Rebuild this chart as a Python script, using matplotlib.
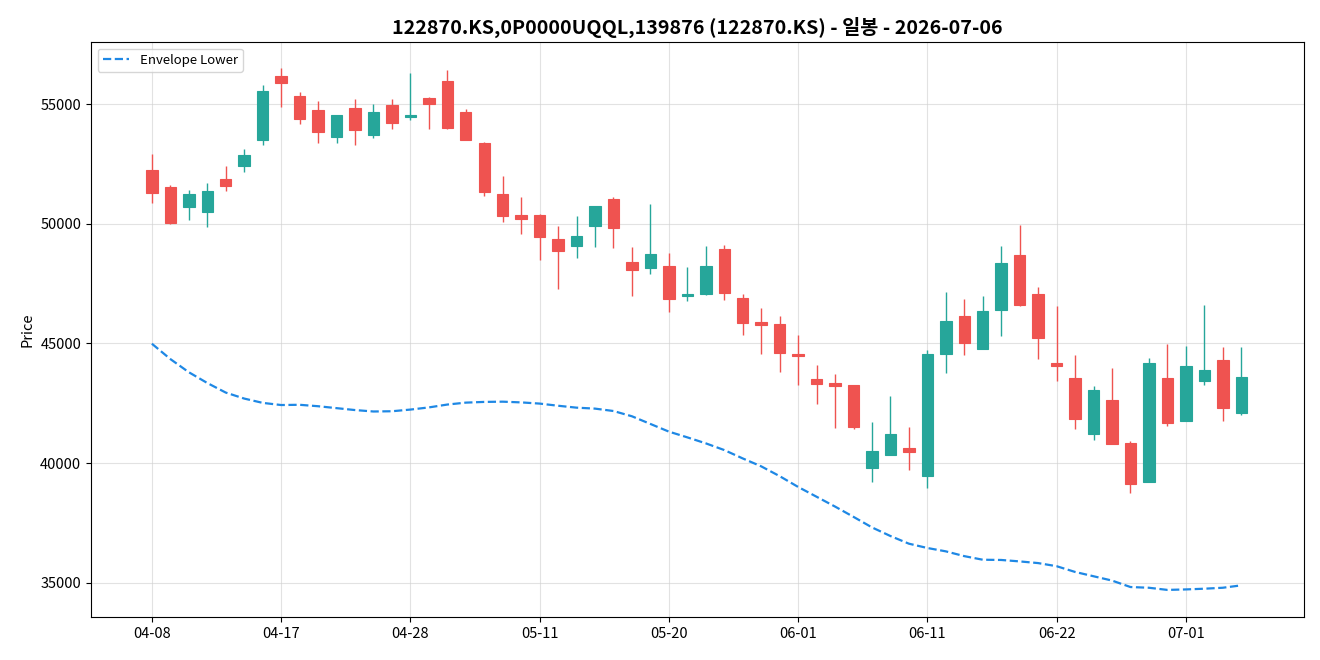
import matplotlib
matplotlib.use("Agg")
import matplotlib.pyplot as plt
import numpy as np

plt.rcParams['font.family'] = ['Noto Sans CJK KR', 'DejaVu Sans']

dates = ["04-08", "04-09", "04-10", "04-13", "04-14", "04-15", "04-16", "04-17", "04-20", "04-21",
         "04-22", "04-23", "04-24", "04-27", "04-28", "04-29", "04-30", "05-04", "05-06", "05-07",
         "05-08", "05-11", "05-12", "05-13", "05-14", "05-15", "05-18", "05-19", "05-20", "05-21",
         "05-22", "05-26", "05-27", "05-28", "05-29", "06-01", "06-02", "06-04", "06-05", "06-08",
         "06-09", "06-10", "06-11", "06-12", "06-15", "06-16", "06-17", "06-18", "06-19", "06-22",
         "06-23", "06-24", "06-25", "06-26", "06-29", "06-30", "07-01", "07-02", "07-03", "07-06"]

opens = [52250, 51530, 50690, 50500, 51850, 52400, 53480, 56170, 55320, 54740,
         53610, 54820, 53690, 54950, 54460, 55240, 55950, 54670, 53360, 51230,
         50350, 50350, 49350, 49060, 49890, 51020, 48390, 48170, 48220, 46990,
         47080, 48930, 46890, 45890, 45810, 44560, 43510, 43340, 43260, 39790,
         40330, 40640, 39460, 44550, 46150, 44780, 46390, 48680, 47050, 44170,
         43550, 41210, 42630, 40830, 39210, 43550, 41750, 43440, 44300, 42090]
highs = [52900, 51620, 51410, 51700, 52410, 53120, 55790, 56500, 55500, 55120,
         54530, 55210, 55000, 55210, 56290, 55290, 56420, 54790, 53430, 51990,
         51120, 50410, 49910, 50320, 50740, 51120, 49020, 50830, 48780, 48190,
         49070, 49110, 47070, 46480, 46160, 45360, 44100, 43730, 43260, 41720,
         42810, 41520, 44730, 47150, 46860, 46980, 49070, 49950, 47360, 46580,
         44520, 43230, 43980, 40930, 44380, 44980, 44900, 46610, 44860, 44860]
lows = [50880, 50000, 50160, 49880, 51370, 52170, 53300, 54890, 54180, 53380,
        53380, 53300, 53590, 53970, 54320, 53970, 53970, 53480, 51170, 50090,
        49590, 48500, 47290, 48580, 49040, 49000, 47000, 47920, 46330, 46790,
        47040, 46830, 45370, 44580, 43820, 43270, 42480, 41490, 41430, 39220,
        40330, 39720, 38970, 43780, 44520, 44780, 45330, 46570, 44370, 43450,
        41440, 40980, 40790, 38770, 39200, 41570, 41750, 43280, 41780, 42030]
closes = [51300, 50020, 51230, 51350, 51590, 52860, 55530, 55890, 54390, 53820,
          54530, 53900, 54670, 54190, 54520, 54990, 53990, 53480, 51310, 50310,
          50190, 49430, 48850, 49480, 50740, 49810, 48060, 48730, 46850, 47080,
          48220, 47100, 45840, 45770, 44590, 44470, 43300, 43240, 41530, 40500,
          41210, 40460, 44560, 45930, 45010, 46350, 48350, 46600, 45240, 44050,
          41840, 43050, 40790, 39140, 44170, 41670, 44050, 43880, 42300, 43590]

envelope_lower = [44990, 44350, 43800, 43350, 42950, 42700, 42520, 42430, 42440, 42380,
                  42300, 42220, 42160, 42170, 42240, 42330, 42450, 42530, 42560, 42570,
                  42540, 42490, 42400, 42320, 42280, 42180, 41960, 41640, 41320, 41080,
                  40830, 40550, 40200, 39870, 39460, 39010, 38600, 38190, 37760, 37320,
                  36960, 36640, 36460, 36320, 36120, 35970, 35960, 35900, 35830, 35700,
                  35460, 35280, 35100, 34830, 34800, 34710, 34730, 34760, 34800, 34900]

title = "122870.KS,0P0000UQQL,139876 (122870.KS) - 일봉 - 2026-07-06"

UP = "#26a69a"
DOWN = "#ef5350"

fig = plt.figure(figsize=(13.2, 6.6), dpi=100)
ax = fig.add_axes([0.0689, 0.0652, 0.919, 0.8712])

x = np.arange(len(dates))
o = np.array(opens); c = np.array(closes); h = np.array(highs); l = np.array(lows)
up = c >= o
colors = np.where(up, UP, DOWN)

ax.vlines(x, l, h, colors=colors, linewidth=1.0, zorder=2)
bottom = np.minimum(o, c)
height = np.maximum(np.abs(c - o), 60)
ax.bar(x, height, bottom=bottom, width=0.62, color=colors, edgecolor=colors,
       linewidth=0.8, zorder=3)

ax.plot(x, envelope_lower, linestyle='--', color='#1e88e5', linewidth=1.6,
        label='Envelope Lower', zorder=4)

ax.set_xlim(-3.3, 62.4)
ax.set_ylim(33580, 57590)
ticks = x[::7]
ax.set_xticks(ticks)
ax.set_xticklabels([dates[i] for i in ticks], fontsize=10.5)
ax.set_yticks([35000, 40000, 45000, 50000, 55000])
ax.tick_params(axis='y', labelsize=10.5)
ax.set_ylabel("Price", fontsize=10.5)
ax.grid(True, color='#d0d0d0', alpha=0.6, linewidth=0.8)
ax.set_axisbelow(True)
ax.set_title(title, fontsize=14.2, fontweight='bold')
ax.legend(loc='upper left', fontsize=9.5)

fig.savefig("out.png", dpi=100)
